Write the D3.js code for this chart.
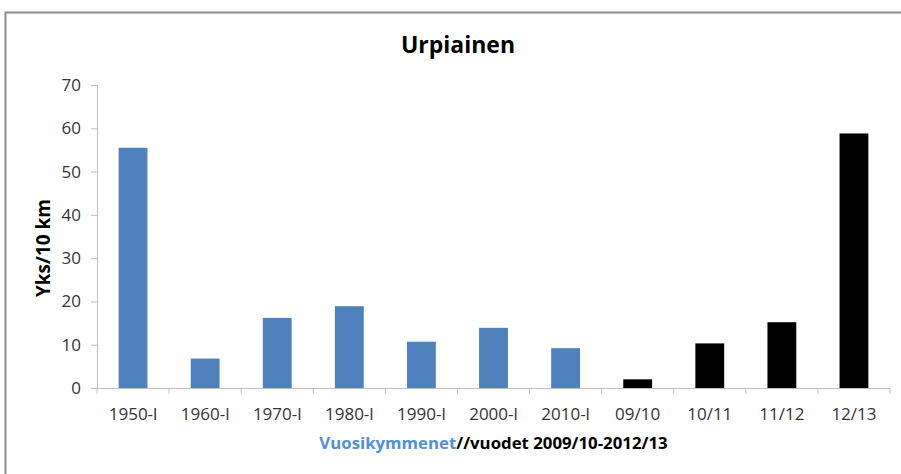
<!DOCTYPE html>
<html>
<head>
<meta charset="utf-8">
<script src="https://cdn.jsdelivr.net/npm/d3@7/dist/d3.min.js"></script>
<style>
  html, body { margin: 0; padding: 0; background: #ffffff; overflow: hidden; }
  svg { display: block; }
  text { font-family: "Open Sans", "Noto Sans", sans-serif; }
</style>
</head>
<body>
<svg id="chart" width="901" height="474"></svg>
<script>
// Decades (blue) followed by single winters (black)
const decadeLabels = ["1950-l", "1960-l", "1970-l", "1980-l", "1990-l", "2000-l", "2010-l"];
const decadeValues = [55.5, 6.8, 16.2, 18.9, 10.7, 13.9, 9.2];
const seasonLabels = ["09/10", "10/11", "11/12", "12/13"];
const seasonValues = [2.0, 10.3, 15.2, 58.8];
const yTicks = [0, 10, 20, 30, 40, 50, 60, 70];

const titleText = "Urpiainen";
const yTitleText = "Yks/10 km";
const xTitleBlue = "Vuosikymmenet";
const xTitleBlack = "//vuodet 2009/10-2012/13";

const rows = decadeLabels.map((c, i) => ({ cat: c, value: decadeValues[i], kind: "decade" }))
  .concat(seasonLabels.map((c, i) => ({ cat: c, value: seasonValues[i], kind: "season" })));

const svg = d3.select("#chart");
const W = 901, H = 474;
const plot = { left: 97, right: 890, top: 85, bottom: 388 };

// Chart frame: only the top and left edges fall inside the view
svg.append("path")
  .attr("d", `M5.5,${H} V12.5 H${W}`)
  .attr("fill", "none")
  .attr("stroke", "#8c8c8c")
  .attr("stroke-width", 2);

const x = d3.scaleBand()
  .domain(rows.map(d => d.cat))
  .range([plot.left, plot.right])
  .paddingInner(0).paddingOuter(0);

const y = d3.scaleLinear()
  .domain([0, 70])
  .range([plot.bottom, plot.top]);

const barW = x.bandwidth() * 0.4;
const colour = { decade: "#4f81bd", season: "#000000" };

// Bars
svg.append("g").selectAll("rect")
  .data(rows)
  .join("rect")
  .attr("x", d => x(d.cat) + (x.bandwidth() - barW) / 2)
  .attr("y", d => y(d.value))
  .attr("width", barW)
  .attr("height", d => y(0) - y(d.value))
  .attr("fill", d => colour[d.kind]);

// Y axis
const yAxis = svg.append("g")
  .attr("transform", `translate(${plot.left},0)`)
  .call(d3.axisLeft(y).tickValues(yTicks).tickSize(6).tickPadding(10).tickFormat(d3.format("d")));
yAxis.select(".domain").attr("stroke", "#bfbfbf");
yAxis.selectAll(".tick line").attr("stroke", "#bfbfbf");
yAxis.selectAll(".tick text")
  .attr("fill", "#333333")
  .style("font-size", "17px")
  .style("font-family", "\"Open Sans\", sans-serif");

// X axis: labels centred in each band, tick marks on band edges
const xAxis = svg.append("g")
  .attr("transform", `translate(0,${plot.bottom})`)
  .call(d3.axisBottom(x).tickSize(0).tickPadding(20));
xAxis.select(".domain").attr("stroke", "#bfbfbf");
xAxis.selectAll(".tick text")
  .attr("fill", "#333333")
  .style("font-size", "17px")
  .style("font-family", "\"Open Sans\", sans-serif");

const edges = x.domain().map(c => x(c)).concat([x.range()[1]]);
xAxis.selectAll("line.edge")
  .data(edges)
  .join("line")
  .attr("class", "edge")
  .attr("x1", d => d).attr("x2", d => d)
  .attr("y1", 0).attr("y2", 6)
  .attr("stroke", "#bfbfbf");

// Title
svg.append("text")
  .attr("x", 458).attr("y", 53)
  .attr("text-anchor", "middle")
  .style("font-size", "23px")
  .style("font-weight", "bold")
  .attr("fill", "#000000")
  .text(titleText);

// Y axis title
svg.append("text")
  .attr("transform", "translate(50,248) rotate(-90)")
  .attr("text-anchor", "middle")
  .style("font-size", "19px")
  .style("font-weight", "bold")
  .attr("fill", "#000000")
  .text(yTitleText);

// X axis title in two colours
const xt = svg.append("text")
  .attr("x", (plot.left + plot.right) / 2).attr("y", 449)
  .attr("text-anchor", "middle")
  .style("font-size", "16.8px")
  .style("font-weight", "bold");
xt.append("tspan").attr("fill", "#4f8fdc").text(xTitleBlue);
xt.append("tspan").attr("fill", "#000000").text(xTitleBlack);
</script>
</body>
</html>
